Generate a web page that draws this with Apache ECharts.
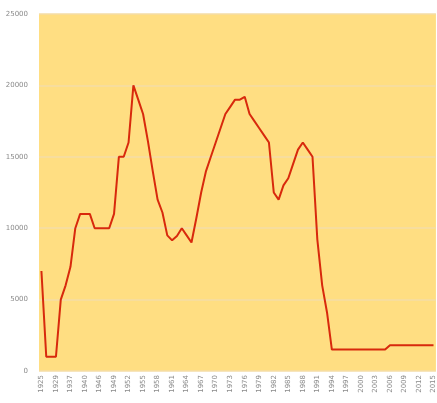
<!DOCTYPE html>
<html>
<head>
<meta charset="utf-8">
<script src="https://cdn.jsdelivr.net/npm/echarts@6/dist/echarts.min.js"></script>
<style>html,body{margin:0;padding:0;background:#fff;}#c{width:437px;height:403px;}</style>
</head>
<body>
<div id="c"></div>
<script>
var years = [
  '1925','1926','1927','1929','1930','1933','1937','1938','1939','1940',
  '1941','1944','1946','1947','1948','1949','1950','1951',
  '1952','1953','1954','1955','1956','1957','1958','1959','1960','1961',
  '1962','1963','1964','1965','1966','1967','1968','1969','1970','1971',
  '1972','1973','1974','1975','1976','1977','1978','1979','1980','1981',
  '1982','1983','1984','1985','1986','1987','1988','1989','1990','1991',
  '1992','1993','1994','1995','1996','1997','1998','1999','2000','2001',
  '2002','2003','2004','2005','2006','2007','2008','2009','2010','2011',
  '2012','2013','2014','2015'
];
var values = [
  7000,1000,1000,1000,5000,6000,7300,10000,11000,11000,
  11000,10000,10000,10000,10000,11000,15000,15000,
  16000,20000,19000,18000,16100,14000,12000,11100,9500,9150,
  9450,10000,9500,9000,10700,12500,14000,15000,16000,17000,
  18000,18500,19000,19000,19200,18000,17500,17000,16500,16000,
  12500,12000,13000,13500,14500,15500,16000,15500,15000,9200,
  6000,4100,1500,1500,1500,1500,1500,1500,1500,1500,
  1500,1500,1500,1500,1800,1800,1800,1800,1800,1800,
  1800,1800,1800,1800
];
var chart = echarts.init(document.getElementById('c'), null, {renderer: 'canvas'});
chart.setOption({
  animation: false,
  backgroundColor: '#ffffff',
  grid: {left: 39, right: -2, top: 14, bottom: 32, show: true, backgroundColor: '#FFDE82', borderWidth: 0},
  xAxis: {
    type: 'category',
    data: years,
    boundaryGap: true,
    axisLine: {show: false},
    axisTick: {show: false},
    axisLabel: {interval: 2, rotate: 90, fontSize: 7, color: '#8a8a8a', margin: 4, fontFamily: 'DejaVu Sans'},
    splitLine: {show: false}
  },
  yAxis: {
    type: 'value',
    min: 0, max: 25000, interval: 5000,
    axisLine: {show: false},
    axisTick: {show: false},
    axisLabel: {fontSize: 7, color: '#8a8a8a', margin: 11, fontFamily: 'DejaVu Sans',
      formatter: function (v) { return String(v); }},
    splitLine: {lineStyle: {color: '#F4DCA6', width: 1.5}}
  },
  series: [{
    type: 'line',
    data: values,
    symbol: 'none',
    lineStyle: {color: '#D8290C', width: 2}
  }]
});
</script>
</body>
</html>
